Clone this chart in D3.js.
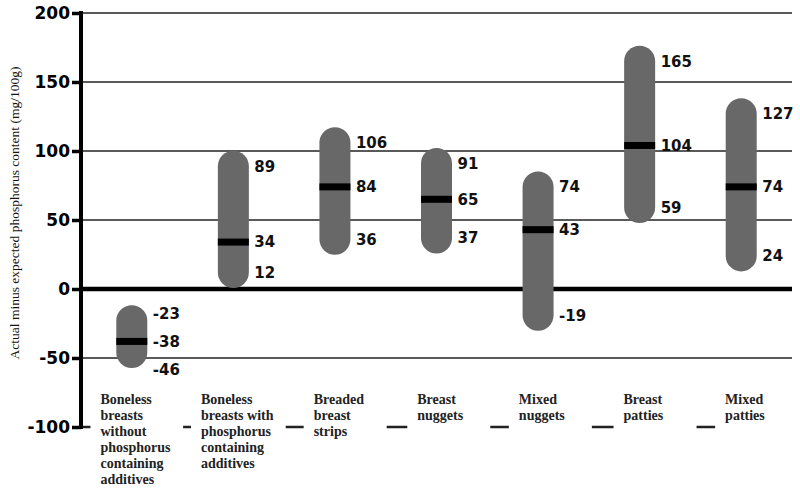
<!DOCTYPE html>
<html>
<head>
<meta charset="utf-8">
<script src="https://cdn.jsdelivr.net/npm/d3@7"></script>
<style>
  body { margin: 0; background: #fff; }
  svg { display: block; }
</style>
</head>
<body>
<div id="chart"></div>
<script>
// product groups, one label line per entry
var categories = ["Boneless breasts without phosphorus containing additives",
    "Boneless breasts with phosphorus containing additives",
    "Breaded breast strips", "Breast nuggets", "Mixed nuggets",
    "Breast patties", "Mixed patties"];
var categoryLines = [
    ["Boneless", "breasts", "without", "phosphorus", "containing", "additives"],
    ["Boneless", "breasts with", "phosphorus", "containing", "additives"],
    ["Breaded", "breast", "strips"],
    ["Breast", "nuggets"],
    ["Mixed", "nuggets"],
    ["Breast", "patties"],
    ["Mixed", "patties"]
];

// actual minus expected phosphorus (mg/100g)
var highVals = [-23, 89, 106, 91, 74, 165, 127];
var midVals  = [-38, 34, 74, 65, 43, 104, 74];
var lowVals  = [-46, 12, 36, 37, -19, 59, 24];
// the printed middle labels (strips bar is labelled 84 in the source figure)
var midText  = ["-38", "34", "84", "65", "43", "104", "74"];

var yTicks = [200, 150, 100, 50, 0, -50, -100];

function init(){
    var w = 800;
    var h = 492;

    var svg = d3.select("#chart")
                .append("svg")
                .attr("width", w)
                .attr("height", h);

    var x = d3.scaleBand()
        .domain(categories)
        .range([81, 792]);

    var y = d3.scaleLinear()
        .domain([-100, 200])
        .range([427, 13]);

    // gridlines
    svg.selectAll("line.grid")
        .data(yTicks.filter(function(d){ return d > -100; }))
        .enter()
        .append("line")
        .attr("class", "grid")
        .attr("x1", 81)
        .attr("x2", 792)
        .attr("y1", function(d){ return y(d); })
        .attr("y2", function(d){ return y(d); })
        .attr("stroke", function(d){ return d == 0 ? "#000" : "#5a5a5a"; })
        .attr("stroke-width", function(d){ return d == 0 ? 4.5 : 2; });

    // bottom line (mostly hidden behind the category labels)
    svg.append("line")
        .attr("x1", 81).attr("x2", 792)
        .attr("y1", y(-100)).attr("y2", y(-100))
        .attr("stroke", "#222")
        .attr("stroke-width", 2.5);

    var cx = function(i){ return x(categories[i]) + x.bandwidth() / 2; };

    // category labels with white boxes over the bottom line
    var catG = svg.selectAll("g.cat")
        .data(categoryLines)
        .enter()
        .append("g")
        .attr("class", "cat");
    var rects = catG.append("rect").attr("fill", "#fff");
    var texts = catG.append("text")
        .style("font-family", "'Liberation Serif', 'Times New Roman', serif")
        .style("font-weight", "bold")
        .style("font-size", "14px")
        .attr("fill", "#222");
    texts.selectAll("tspan")
        .data(function(d){ return d; })
        .enter()
        .append("tspan")
        .attr("x", 0)
        .attr("y", function(d, j){ return 404 + j * 16; })
        .text(function(d){ return d; });

    texts.each(function(d, i){
        var bw = this.getBBox().width;
        var left = cx(i) + 4 - bw / 2;
        d3.select(this).selectAll("tspan").attr("x", left);
        var right = Math.max(left + 73, left + bw + 12);
        d3.select(rects.nodes()[i])
            .attr("x", Math.max(left - 10, 84))
            .attr("y", 418)
            .attr("width", right - Math.max(left - 10, 84))
            .attr("height", 20);
    });

    // y axis
    var yAxis = d3.axisLeft(y)
        .tickValues(yTicks)
        .tickSize(9)
        .tickPadding(2)
        .tickFormat(function(d){ return String(d); });

    var ax = svg.append("g")
        .attr("transform", "translate(81,0)")
        .call(yAxis);
    ax.select(".domain")
        .attr("d", "M0," + (y(200) - 2) + "V" + (y(-100) + 2))
        .attr("stroke", "#000")
        .attr("stroke-width", 4);
    ax.selectAll(".tick line")
        .attr("stroke", "#000")
        .attr("stroke-width", 3.5);
    ax.selectAll(".tick text")
        .attr("fill", "#000")
        .style("font-family", "'DejaVu Sans', Verdana, sans-serif")
        .style("font-weight", "bold")
        .style("font-size", "17px");

    // axis title
    svg.append("text")
        .attr("transform", "translate(19,213) rotate(-90)")
        .attr("text-anchor", "middle")
        .style("font-family", "'Liberation Serif', 'Times New Roman', serif")
        .style("font-size", "13.5px")
        .attr("fill", "#111")
        .text("Actual minus expected  phosphorus content (mg/100g)");

    // capsules
    svg.selectAll("line.cap")
        .data(categories)
        .enter()
        .append("line")
        .attr("class", "cap")
        .attr("x1", function(d, i){ return cx(i); })
        .attr("x2", function(d, i){ return cx(i); })
        .attr("y1", function(d, i){ return y(highVals[i]); })
        .attr("y2", function(d, i){ return y(lowVals[i]); })
        .attr("stroke", "#686868")
        .attr("stroke-width", 31)
        .attr("stroke-linecap", "round");

    // middle marks
    svg.selectAll("rect.mid")
        .data(categories)
        .enter()
        .append("rect")
        .attr("class", "mid")
        .attr("x", function(d, i){ return cx(i) - 15.5; })
        .attr("y", function(d, i){ return y(midVals[i]) - 3.5; })
        .attr("width", 31)
        .attr("height", 7)
        .attr("fill", "#000");

    // value labels, pushed apart when they crowd the middle one
    var gap = 28;
    var labels = [];
    categories.forEach(function(c, i){
        var ym = y(midVals[i]);
        labels.push({ i: i, y: Math.min(y(highVals[i]), ym - gap), t: String(highVals[i]) });
        labels.push({ i: i, y: ym, t: midText[i] });
        labels.push({ i: i, y: Math.max(y(lowVals[i]), ym + gap), t: String(lowVals[i]) });
    });
    svg.selectAll("text.val")
        .data(labels)
        .enter()
        .append("text")
        .attr("class", "val")
        .attr("x", function(d){ return cx(d.i) + 21; })
        .attr("y", function(d){ return d.y; })
        .attr("dy", "0.36em")
        .style("font-family", "'DejaVu Sans', Verdana, sans-serif")
        .style("font-weight", "bold")
        .style("font-size", "15px")
        .attr("fill", "#111")
        .text(function(d){ return d.t; });
}
window.onload = init;
</script>
</body>
</html>
